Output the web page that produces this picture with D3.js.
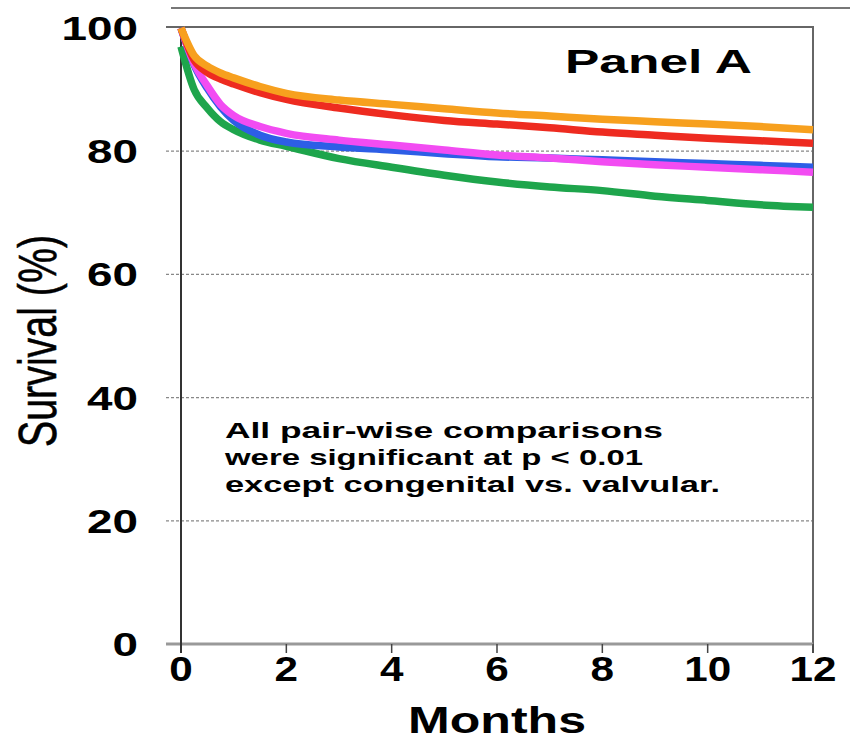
<!DOCTYPE html>
<html>
<head>
<meta charset="utf-8">
<script src="https://cdn.jsdelivr.net/npm/d3@7"></script>
<style>
    body { margin: 0; background: #fff; }
    svg { display: block; }
</style>
</head>
<body>
<svg id="chart"></svg>
<script>
const months = [0, 0.25, 0.5, 0.75, 1, 1.5, 2, 3, 4, 5, 6, 7, 8, 9, 10, 11, 12];

const orange = [100, 95.5, 93.8, 92.7, 91.9, 90.5, 89.4, 88.3, 87.6, 86.9, 86.2, 85.7, 85.2, 84.8, 84.4, 84.0, 83.5];
const red = [100, 94.8, 92.8, 91.7, 90.9, 89.5, 88.4, 87.0, 85.9, 85.0, 84.4, 83.8, 83.1, 82.6, 82.1, 81.7, 81.3];
const magenta = [100, 94.2, 90.6, 87.6, 85.8, 84.0, 82.9, 81.8, 81.0, 80.2, 79.4, 78.9, 78.3, 77.8, 77.4, 77.0, 76.6];
const blue = [100, 94.0, 90.2, 87.2, 85.0, 82.6, 81.5, 80.7, 80.2, 79.6, 79.1, 78.9, 78.6, 78.3, 78.0, 77.7, 77.4];
const green = [97, 90.0, 87.0, 84.8, 83.5, 81.8, 80.8, 78.8, 77.4, 76.1, 75.0, 74.2, 73.6, 72.7, 72.0, 71.3, 70.9];

const xTicks = [0, 2, 4, 6, 8, 10, 12];
const yTicks = [0, 20, 40, 60, 80, 100];
const gridTicks = [20, 40, 60, 80];

const note = [
    "All pair-wise comparisons",
    "were significant at p < 0.01",
    "except congenital vs. valvular."
];

// drawing order: bottom first
const series = [
    {name: "green", values: green, color: "#1ea54c"},
    {name: "blue", values: blue, color: "#2d5ee6"},
    {name: "magenta", values: magenta, color: "#f24cf2"},
    {name: "red", values: red, color: "#ee2b20"},
    {name: "orange", values: orange, color: "#f7a01e"},
];

const width = 850;
const height = 742;

const svg = d3.select("#chart")
    .attr("width", width)
    .attr("height", height)
    .attr("font-family", "'Liberation Sans', Arial, sans-serif");

const x = d3.scaleLinear().domain([0, 12]).range([181, 813]);
const y = d3.scaleLinear().domain([0, 100]).range([644, 28]);

// stray line at the very top of the figure
svg.append("line")
    .attr("x1", 171).attr("x2", 850)
    .attr("y1", 8).attr("y2", 8)
    .attr("stroke", "#777")
    .attr("stroke-width", 2);

// dotted grid
svg.selectAll(".grid")
    .data(gridTicks)
    .enter().append("line")
    .attr("class", "grid")
    .attr("x1", 166).attr("x2", x(12))
    .attr("y1", d => y(d)).attr("y2", d => y(d))
    .attr("stroke", "#888")
    .attr("stroke-width", 1.3)
    .attr("stroke-dasharray", "3,2");

// frame: top and right
svg.append("line")
    .attr("x1", 166).attr("x2", x(12) + 1)
    .attr("y1", y(100) - 1).attr("y2", y(100) - 1)
    .attr("stroke", "#666")
    .attr("stroke-width", 2);
svg.append("line")
    .attr("x1", x(12)).attr("x2", x(12))
    .attr("y1", y(100) - 1).attr("y2", y(0) + 9)
    .attr("stroke", "#666")
    .attr("stroke-width", 2);

// bottom axis
svg.append("line")
    .attr("x1", 166).attr("x2", x(12))
    .attr("y1", y(0)).attr("y2", y(0))
    .attr("stroke", "#999")
    .attr("stroke-width", 3);

svg.selectAll(".xtick")
    .data(xTicks)
    .enter().append("line")
    .attr("class", "xtick")
    .attr("x1", d => x(d)).attr("x2", d => x(d))
    .attr("y1", y(0)).attr("y2", y(0) + 9)
    .attr("stroke", "#444")
    .attr("stroke-width", 1.5);

// left axis
svg.append("line")
    .attr("x1", x(0)).attr("x2", x(0))
    .attr("y1", y(100)).attr("y2", y(0) + 9)
    .attr("stroke", "#333")
    .attr("stroke-width", 2);

// curves
const line = d3.line()
    .x((d, i) => x(months[i]))
    .y(d => y(d))
    .curve(d3.curveMonotoneX);

svg.selectAll(".curve")
    .data(series)
    .enter().append("path")
    .attr("class", "curve")
    .attr("d", d => line(d.values))
    .attr("fill", "none")
    .attr("stroke", d => d.color)
    .attr("stroke-width", 7.5)
    .attr("stroke-linejoin", "round");

// tick labels (stretched wide like the original)
svg.selectAll(".ylab")
    .data(yTicks)
    .enter().append("text")
    .attr("class", "ylab")
    .attr("x", 138)
    .attr("y", d => y(d) + 12)
    .attr("text-anchor", "end")
    .attr("font-size", 33)
    .attr("font-weight", "bold")
    .attr("textLength", d => String(d).length * 25.5)
    .attr("lengthAdjust", "spacingAndGlyphs")
    .text(d => d);

svg.selectAll(".xlab")
    .data(xTicks)
    .enter().append("text")
    .attr("class", "xlab")
    .attr("x", d => x(d))
    .attr("y", 681)
    .attr("text-anchor", "middle")
    .attr("font-size", 35)
    .attr("font-weight", "bold")
    .attr("textLength", d => String(d).length * 23.5)
    .attr("lengthAdjust", "spacingAndGlyphs")
    .text(d => d);

// axis titles
svg.append("text")
    .attr("x", (x(0) + x(12)) / 2)
    .attr("y", 733)
    .attr("text-anchor", "middle")
    .attr("font-size", 36)
    .attr("font-weight", "bold")
    .attr("textLength", 178)
    .attr("lengthAdjust", "spacingAndGlyphs")
    .text("Months");

svg.append("text")
    .attr("transform", "translate(56,341) rotate(-90) scale(1,1.4)")
    .attr("text-anchor", "middle")
    .attr("font-size", 38)
    .attr("stroke", "#000")
    .attr("stroke-width", 0.4)
    .attr("textLength", 212)
    .attr("lengthAdjust", "spacingAndGlyphs")
    .text("Survival (%)");

// panel label
svg.append("text")
    .attr("x", 565)
    .attr("y", 73)
    .attr("font-size", 34)
    .attr("font-weight", "bold")
    .attr("textLength", 187)
    .attr("lengthAdjust", "spacingAndGlyphs")
    .text("Panel A");

// note
const noteWidths = [438, 418, 495];
svg.selectAll(".note")
    .data(note)
    .enter().append("text")
    .attr("class", "note")
    .attr("x", 225)
    .attr("y", (d, i) => 438 + i * 27)
    .attr("font-size", 22)
    .attr("font-weight", "bold")
    .attr("textLength", (d, i) => noteWidths[i])
    .attr("lengthAdjust", "spacingAndGlyphs")
    .text(d => d);
</script>
</body>
</html>
